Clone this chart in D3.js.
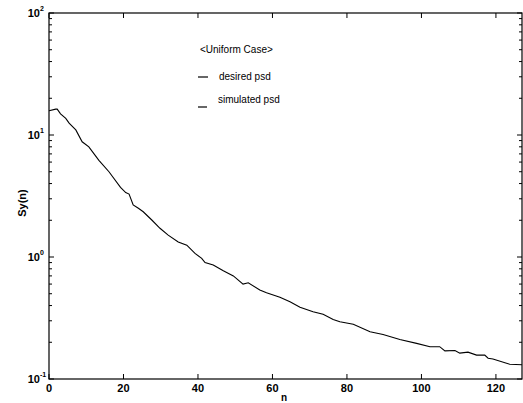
<!DOCTYPE html>
<html>
<head>
<meta charset="utf-8">
<script src="https://cdn.jsdelivr.net/npm/d3@7"></script>
<style>
  body { margin: 0; background: #fff; }
  text { font-family: "Liberation Sans", Arial, sans-serif; }
</style>
</head>
<body>
<script>
'use strict';

// curve: n and Sy(n)
const nValues = [0, 1.8, 2.2, 3.1, 4.5, 5.4, 7.2, 8.9, 10.7, 13.4, 16.1, 19.2, 20.6, 21.5,
  22.6, 24.0, 25.3, 27.6, 29.8, 32.0, 34.7, 37.0, 39.2, 41.0, 41.9, 44.1, 46.8, 49.5,
  52.1, 53.5, 56.6, 58.4, 62.0, 64.7, 67.4, 70.9, 73.6, 76.3, 78.1, 81.7, 86.2, 89.7,
  94.2, 98.7, 102.3, 104.9, 106.3, 109.0, 110.3, 112.5, 114.8, 117.0, 117.9, 119.2,
  123.7, 127];
const syValues = [15.8, 16.3, 16.3, 14.9, 13.7, 12.5, 11.0, 8.8, 8.0, 6.2, 5.0, 3.72, 3.37, 3.28,
  2.67, 2.51, 2.35, 2.01, 1.72, 1.51, 1.33, 1.25, 1.07, 0.975, 0.90, 0.86, 0.77, 0.70,
  0.60, 0.615, 0.537, 0.51, 0.468, 0.43, 0.387, 0.356, 0.339, 0.308, 0.295, 0.281, 0.244, 0.232,
  0.211, 0.196, 0.184, 0.184, 0.170, 0.171, 0.163, 0.166, 0.157, 0.157, 0.148, 0.146,
  0.132, 0.131];

const xTicks = [0, 20, 40, 60, 80, 100, 120];
const yTicks = [0.1, 1, 10, 100];
const yExps = ["-1", "0", "1", "2"];
const legendTitle = "<Uniform Case>";
const legendLabels = ["desired psd", "simulated psd"];

(function() {
  const W = 523, H = 403;
  const m = { left: 49, right: 522, top: 13, bottom: 379 };

  const svg = d3.select('body').append('svg')
    .attr('width', W)
    .attr('height', H);

  const x = d3.scaleLinear().domain([0, 127]).range([m.left, m.right]);
  const y = d3.scaleLog().domain([0.1, 100]).range([m.bottom, m.top]);

  // frame
  svg.append('rect')
    .attr('x', m.left).attr('y', m.top)
    .attr('width', m.right - m.left).attr('height', m.bottom - m.top)
    .attr('fill', 'none').attr('stroke', '#000').attr('stroke-width', 1.2);

  // minor log ticks on left and right
  const minor = [];
  [0.1, 1, 10].forEach(d => { for (let k = 2; k <= 9; k++) minor.push(d * k); });
  minor.forEach(v => {
    svg.append('line').attr('x1', m.left).attr('x2', m.left + 3)
      .attr('y1', y(v)).attr('y2', y(v)).attr('stroke', '#000');
    svg.append('line').attr('x1', m.right).attr('x2', m.right - 3)
      .attr('y1', y(v)).attr('y2', y(v)).attr('stroke', '#000');
  });
  yTicks.forEach((v, i) => {
    svg.append('line').attr('x1', m.left).attr('x2', m.left + 5)
      .attr('y1', y(v)).attr('y2', y(v)).attr('stroke', '#000');
    svg.append('line').attr('x1', m.right).attr('x2', m.right - 5)
      .attr('y1', y(v)).attr('y2', y(v)).attr('stroke', '#000');
    svg.append('text')
      .attr('x', 40).attr('y', y(v) + 4)
      .attr('text-anchor', 'end')
      .style('font-size', '11px').style('font-weight', 'bold')
      .text('10');
    svg.append('text')
      .attr('x', 40).attr('y', y(v) - 2)
      .style('font-size', '7px').style('font-weight', 'bold')
      .text(yExps[i]);
  });

  // x ticks
  xTicks.forEach(v => {
    svg.append('line').attr('x1', x(v)).attr('x2', x(v))
      .attr('y1', m.bottom).attr('y2', m.bottom - 5).attr('stroke', '#000');
    svg.append('line').attr('x1', x(v)).attr('x2', x(v))
      .attr('y1', m.top).attr('y2', m.top + 5).attr('stroke', '#000');
    svg.append('text')
      .attr('x', x(v)).attr('y', 392)
      .attr('text-anchor', 'middle')
      .style('font-size', '11px').style('font-weight', 'bold')
      .text(v);
  });

  // curve
  const pts = nValues.map((n, i) => [n, syValues[i]]);
  svg.append('path')
    .datum(pts)
    .attr('fill', 'none')
    .attr('stroke', '#000')
    .attr('stroke-width', 1.1)
    .attr('d', d3.line().x(d => x(d[0])).y(d => y(d[1])));

  // axis labels
  svg.append('text')
    .attr('transform', 'translate(26, 203)rotate(-90)')
    .attr('text-anchor', 'middle')
    .style('font-size', '11px').style('font-weight', 'bold')
    .text('Sy(n)');
  svg.append('text')
    .attr('x', 284).attr('y', 401)
    .attr('text-anchor', 'middle')
    .style('font-size', '10px').style('font-weight', 'bold')
    .text('n');

  // legend
  svg.append('text')
    .attr('x', 200).attr('y', 53)
    .style('font-size', '10px')
    .text(legendTitle);
  svg.append('line').attr('x1', 198).attr('x2', 208)
    .attr('y1', 77).attr('y2', 77).attr('stroke', '#000').attr('stroke-width', 1.2);
  svg.append('text')
    .attr('x', 219).attr('y', 80)
    .style('font-size', '10px')
    .text(legendLabels[0]);
  svg.append('line').attr('x1', 198).attr('x2', 207)
    .attr('y1', 107).attr('y2', 107).attr('stroke', '#000').attr('stroke-width', 1.2);
  svg.append('text')
    .attr('x', 218).attr('y', 103)
    .style('font-size', '10px')
    .text(legendLabels[1]);
})();
</script>
</body>
</html>
